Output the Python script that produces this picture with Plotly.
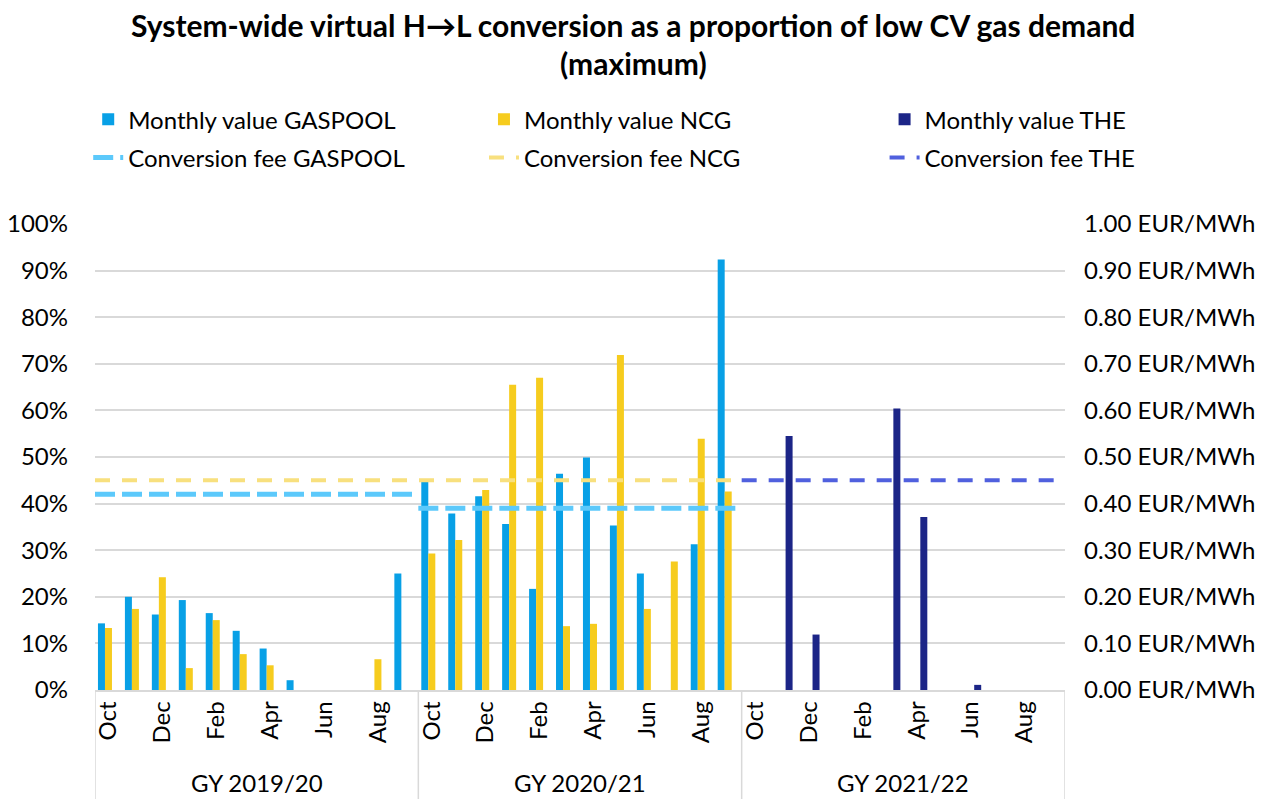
import plotly.graph_objects as go

# ---------------- data ----------------
months = ["Oct", "Nov", "Dec", "Jan", "Feb", "Mar", "Apr", "May", "Jun", "Jul", "Aug", "Sep"]
gas_years = ["GY 2019/20", "GY 2020/21", "GY 2021/22"]

gaspool_2019 = [14.3, 20.0, 16.2, 19.3, 16.5, 12.7, 8.9, 2.1, None, None, None, 25.0]
gaspool_2020 = [45.1, 37.9, 41.6, 35.6, 21.7, 46.4, 49.9, 35.3, 25.0, None, 31.3, 92.4]
gaspool_2021 = [None, None, None, None, None, None, None, None, None, None, None, None]

ncg_2019 = [13.3, 17.4, 24.2, 4.7, 15.0, 7.7, 5.3, None, None, None, 6.6, None]
ncg_2020 = [29.3, 32.2, 42.9, 65.5, 67.0, 13.7, 14.2, 71.9, 17.4, 27.6, 53.9, 42.6]
ncg_2021 = [None, None, None, None, None, None, None, None, None, None, None, None]

the_2019 = [None, None, None, None, None, None, None, None, None, None, None, None]
the_2020 = [None, None, None, None, None, None, None, None, None, None, None, None]
the_2021 = [None, 54.5, 11.9, None, None, 60.4, 37.1, None, 1.1, None, None, None]

fee_gaspool = [0.42, 0.39, None]   # EUR/MWh per gas year
fee_ncg = [0.45, 0.45, None]
fee_the = [None, None, 0.45]

title_lines = ["System-wide virtual H→L conversion as a proportion of low CV gas demand", "(maximum)"]

# ---------------- helpers ----------------
n_m = len(months)
x_all = list(range(n_m * len(gas_years)))
gaspool = gaspool_2019 + gaspool_2020 + gaspool_2021
ncg = ncg_2019 + ncg_2020 + ncg_2021
the = the_2019 + the_2020 + the_2021


def fee_line(fees):
    xs, ys = [], []
    prev = None
    for i, v in enumerate(fees):
        if v is None:
            if xs and xs[-1] is not None:
                xs.append(None); ys.append(None)
            prev = None
            continue
        x0, x1 = i * n_m - 0.5, i * n_m + n_m - 0.5
        if prev is not None and prev != v:
            xs.append(None); ys.append(None)
        xs += [x0, x1]
        ys += [v, v]
        prev = v
    return xs, ys


FONT = "Lato"
FS = 24
fig = go.Figure()

bar_cfg = [
    ("Monthly value GASPOOL", gaspool, "#08A0E6", "legend"),
    ("Monthly value NCG", ncg, "#F6CC1E", "legend2"),
    ("Monthly value THE", the, "#1C2587", "legend3"),
]
for name, vals, col, lg in bar_cfg:
    fig.add_trace(go.Bar(
        x=x_all, y=vals, name=name, marker=dict(color=col, line=dict(width=0)),
        legend=lg, legendgroup=name,
    ))

line_cfg = [
    ("Conversion fee GASPOOL", fee_gaspool, "#5CC9FB", 5, "20px,7px", "legend"),
    ("Conversion fee NCG", fee_ncg, "#F8E07E", 4, "15px,12px", "legend2"),
    ("Conversion fee THE", fee_the, "#5060DE", 4, "15px,12px", "legend3"),
]
for name, fees, col, w, dash, lg in line_cfg:
    xs, ys = fee_line(fees)
    fig.add_trace(go.Scatter(
        x=xs, y=ys, name=name, mode="lines", yaxis="y2",
        line=dict(color=col, width=w, dash=dash), legend=lg, legendgroup=name,
        connectgaps=False,
    ))

# group dividers & labels below the axis
grid_col = "#D9D9D9"
plot_h = 466
plot_w = 970
for gi, gy in enumerate(gas_years):
    x_start = gi * n_m - 0.5
    fig.add_shape(type="line", xref="x", yref="paper", x0=x_start, x1=x_start,
                  y0=0, y1=-120 / plot_h, line=dict(color=grid_col, width=1.5))
    fig.add_annotation(x=gi * n_m + (n_m - 1) / 2, xref="x", y=0, yref="paper",
                       yshift=-92, yanchor="middle", text=gy, showarrow=False,
                       font=dict(family=FONT, size=FS, color="#000000"))
x_end = len(gas_years) * n_m - 0.5
fig.add_shape(type="line", xref="x", yref="paper", x0=x_end, x1=x_end,
              y0=0, y1=-120 / plot_h, line=dict(color=grid_col, width=1.5))

# title lines (centred on page)
page_center = (633 - 95) / plot_w
for li, (txt, shift) in enumerate(zip(title_lines, [199, 161])):
    fig.add_annotation(x=page_center, xref="paper", y=1, yref="paper", yshift=shift,
                       yanchor="middle", xanchor="center", text="<b>" + txt + "</b>",
                       showarrow=False, font=dict(family=FONT, size=30, color="#000000"))

tick_idx = [i for i in x_all if i % 2 == 0]
tick_txt = [months[i % n_m] for i in tick_idx]

leg_common = dict(orientation="v", yanchor="top", xanchor="left", bgcolor="rgba(0,0,0,0)",
                  font=dict(family=FONT, size=FS, color="#000000"), tracegroupgap=4,
                  itemwidth=30)

fig.update_layout(
    width=1262, height=791,
    paper_bgcolor="white", plot_bgcolor="white",
    margin=dict(l=87, r=205, t=216, b=109, autoexpand=False),
    barmode="group", bargap=0.22, bargroupgap=0,
    font=dict(family=FONT, size=FS, color="#000000"),
    xaxis=dict(
        range=[-0.5, x_end], tickmode="array", tickvals=tick_idx, ticktext=tick_txt,
        tickangle=-90, showgrid=False, zeroline=False, showline=True, linecolor=grid_col,
        linewidth=1.5, ticks="", ticklabelstandoff=0, automargin=False,
        tickfont=dict(family=FONT, size=FS, color="#000000"),
    ),
    yaxis=dict(
        range=[0, 100], dtick=10, ticksuffix="%", showgrid=True, gridcolor=grid_col,
        gridwidth=1.5, zeroline=False, showline=False, ticks="", ticklabelstandoff=26,
        automargin=False, tickfont=dict(family=FONT, size=FS, color="#000000"),
    ),
    yaxis2=dict(
        range=[0, 1], dtick=0.1, tickformat=".2f", ticksuffix=" EUR/MWh", overlaying="y",
        side="right", showgrid=False, zeroline=False, showline=False, ticks="",
        ticklabelstandoff=18, automargin=False,
        tickfont=dict(family=FONT, size=FS, color="#000000"),
    ),
    legend=dict(x=-0.007, y=1.272, **leg_common),
    legend2=dict(x=0.401, y=1.272, **leg_common),
    legend3=dict(x=0.814, y=1.272, **leg_common),
)

fig.write_html("out.html")
